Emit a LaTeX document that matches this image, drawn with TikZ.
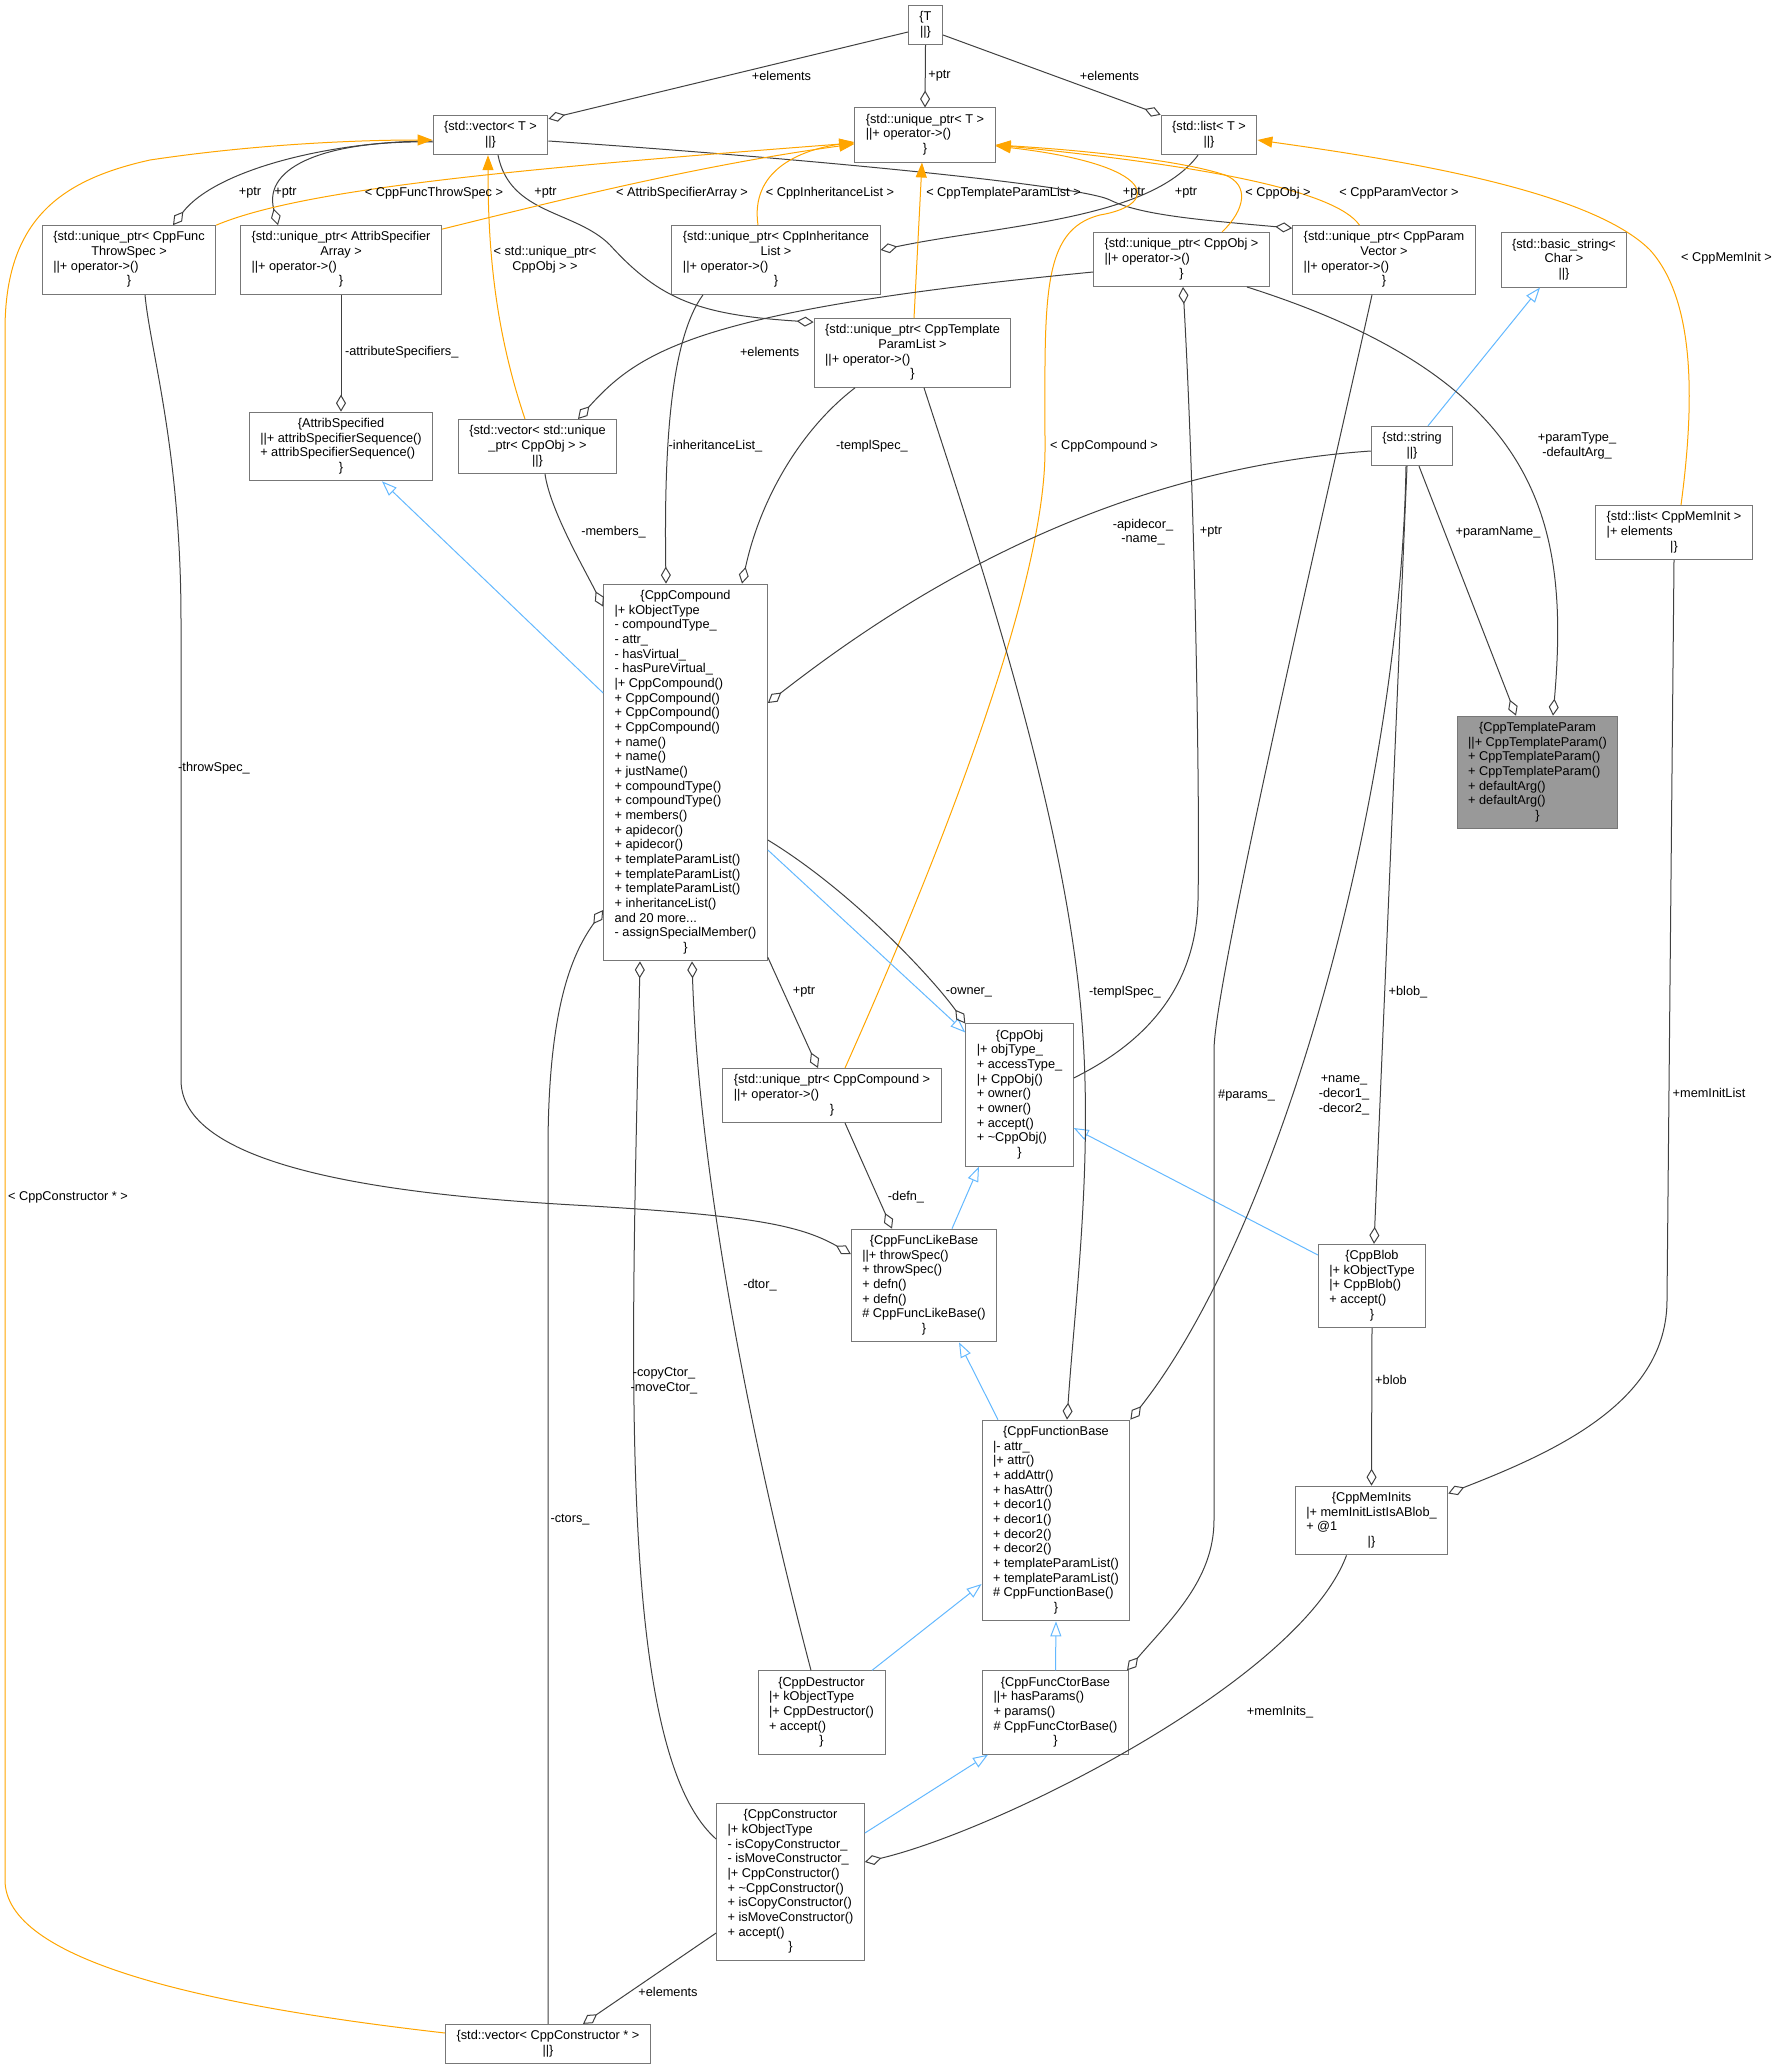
\documentclass[tikz,border=0pt]{standalone}
\usepackage{fontspec}
\setmainfont{Liberation Sans}
\usetikzlibrary{arrows.meta}
\definecolor{boxgray}{HTML}{777777}
\definecolor{hlgray}{HTML}{999999}
\definecolor{edgegray}{HTML}{404040}
\definecolor{tmplorange}{HTML}{FFA500}
\definecolor{inhblue}{HTML}{63B8FF}

% record text: first line centred, members left
\newcommand{\ctrline}[1]{\multicolumn{1}{@{}c@{}}{#1}}
\newcommand{\clsbox}[1]{\begin{tabular}{@{}l@{}}#1\end{tabular}}

\tikzset{
  cls/.style={draw=boxgray, fill=white, line width=1pt, inner xsep=11pt, inner ysep=5pt,
    font=\fontsize{12.75}{14.67}\selectfont},
  hlcls/.style={cls, fill=hlgray},
  lbl/.style={font=\fontsize{12.75}{14.67}\selectfont, align=center, inner sep=0pt},
  agg/.style={draw=edgegray, line width=1pt, {Diamond[open, length=17pt, width=10pt]}-},
  tmpl/.style={draw=tmplorange, fill=none, line width=1pt, -{Triangle[length=15pt, width=11pt]}},
  inh/.style={draw=inhblue, line width=1pt, -{Triangle[open, length=15pt, width=11pt]}},
}

\begin{document}
\begin{tikzpicture}[x=1pt, y=-1pt]
  \useasboundingbox (0,0) rectangle (1779,2069);

  % Top row: templates
  \node[cls] (tpar) at (925.5,25) {\clsbox{\ctrline{\{T}\\ \ctrline{||\}}}};
  \node[cls] (vecT) at (490.5,135) {\clsbox{\ctrline{\{std::vector< T >}\\ \ctrline{||\}}}};
  \node[cls] (uptrT) at (925,135) {\clsbox{\ctrline{\{std::unique\_ptr< T >}\\ ||+ operator->()\\ \ctrline{\}}}};
  \node[cls] (listT) at (1209,135) {\clsbox{\ctrline{\{std::list< T >}\\ \ctrline{||\}}}};

  % unique_ptr instances
  \node[cls] (uptrThrow) at (129,260) {\clsbox{\ctrline{\{std::unique\_ptr< CppFunc}\\ \ctrline{ThrowSpec >}\\ ||+ operator->()\\ \ctrline{\}}}};
  \node[cls] (uptrAttr) at (341,260) {\clsbox{\ctrline{\{std::unique\_ptr< AttribSpecifier}\\ \ctrline{Array >}\\ ||+ operator->()\\ \ctrline{\}}}};
  \node[cls] (uptrInh) at (776,260) {\clsbox{\ctrline{\{std::unique\_ptr< CppInheritance}\\ \ctrline{List >}\\ ||+ operator->()\\ \ctrline{\}}}};
  \node[cls] (uptrTpl) at (912.5,353) {\clsbox{\ctrline{\{std::unique\_ptr< CppTemplate}\\ \ctrline{ParamList >}\\ ||+ operator->()\\ \ctrline{\}}}};
  \node[cls] (uptrObj) at (1181.5,259.5) {\clsbox{\ctrline{\{std::unique\_ptr< CppObj >}\\ ||+ operator->()\\ \ctrline{\}}}};
  \node[cls] (uptrParam) at (1384,260) {\clsbox{\ctrline{\{std::unique\_ptr< CppParam}\\ \ctrline{Vector >}\\ ||+ operator->()\\ \ctrline{\}}}};
  \node[cls] (bstring) at (1564,260) {\clsbox{\ctrline{\{std::basic\_string<}\\ \ctrline{Char >}\\ \ctrline{||\}}}};

  % second row
  \node[cls] (attribSpec) at (341,446.5) {\clsbox{\ctrline{\{AttribSpecified}\\ ||+ attribSpecifierSequence()\\ + attribSpecifierSequence()\\ \ctrline{\}}}};
  \node[cls] (vecObj) at (537.5,446.5) {\clsbox{\ctrline{\{std::vector< std::unique}\\ \ctrline{\_ptr< CppObj > >}\\ \ctrline{||\}}}};
  \node[cls] (string) at (1412,446) {\clsbox{\ctrline{\{std::string}\\ \ctrline{||\}}}};
  \node[cls] (listMem) at (1674,532.5) {\clsbox{\ctrline{\{std::list< CppMemInit >}\\ |+ elements\\ \ctrline{|\}}}};

  % the class itself
  \node[hlcls] (tplParam) at (1537.5,772.5) {\clsbox{\ctrline{\{CppTemplateParam}\\ ||+ CppTemplateParam()\\ + CppTemplateParam()\\ + CppTemplateParam()\\ + defaultArg()\\ + defaultArg()\\ \ctrline{\}}}};

  % CppCompound and friends
  \node[cls] (compound) at (685.5,772.5) {\clsbox{\ctrline{\{CppCompound}\\ |+ kObjectType\\ - compoundType\_\\ - attr\_\\ - hasVirtual\_\\ - hasPureVirtual\_\\ |+ CppCompound()\\ + CppCompound()\\ + CppCompound()\\ + CppCompound()\\ + name()\\ + name()\\ + justName()\\ + compoundType()\\ + compoundType()\\ + members()\\ + apidecor()\\ + apidecor()\\ + templateParamList()\\ + templateParamList()\\ + templateParamList()\\ + inheritanceList()\\ and 20 more...\\ - assignSpecialMember()\\ \ctrline{\}}}};
  \node[cls] (cppObj) at (1019.5,1095) {\clsbox{\ctrline{\{CppObj}\\ |+ objType\_\\ + accessType\_\\ |+ CppObj()\\ + owner()\\ + owner()\\ + accept()\\ + \textasciitilde CppObj()\\ \ctrline{\}}}};
  \node[cls] (uptrCmp) at (832,1095.5) {\clsbox{\ctrline{\{std::unique\_ptr< CppCompound >}\\ ||+ operator->()\\ \ctrline{\}}}};
  \node[cls] (funcLike) at (924,1285.5) {\clsbox{\ctrline{\{CppFuncLikeBase}\\ ||+ throwSpec()\\ + throwSpec()\\ + defn()\\ + defn()\\ \# CppFuncLikeBase()\\ \ctrline{\}}}};
  \node[cls] (blob) at (1372,1286) {\clsbox{\ctrline{\{CppBlob}\\ |+ kObjectType\\ |+ CppBlob()\\ + accept()\\ \ctrline{\}}}};
  \node[cls] (funcBase) at (1056,1520.5) {\clsbox{\ctrline{\{CppFunctionBase}\\ |- attr\_\\ |+ attr()\\ + addAttr()\\ + hasAttr()\\ + decor1()\\ + decor1()\\ + decor2()\\ + decor2()\\ + templateParamList()\\ + templateParamList()\\ \# CppFunctionBase()\\ \ctrline{\}}}};
  \node[cls] (memInits) at (1371.5,1520.5) {\clsbox{\ctrline{\{CppMemInits}\\ |+ memInitListIsABlob\_\\ + @1\\ \ctrline{|\}}}};
  \node[cls] (dtor) at (821.5,1712.5) {\clsbox{\ctrline{\{CppDestructor}\\ |+ kObjectType\\ |+ CppDestructor()\\ + accept()\\ \ctrline{\}}}};
  \node[cls] (ctorBase) at (1055.5,1712.5) {\clsbox{\ctrline{\{CppFuncCtorBase}\\ ||+ hasParams()\\ + params()\\ \# CppFuncCtorBase()\\ \ctrline{\}}}};
  \node[cls] (ctor) at (790.5,1882) {\clsbox{\ctrline{\{CppConstructor}\\ |+ kObjectType\\ - isCopyConstructor\_\\ - isMoveConstructor\_\\ |+ CppConstructor()\\ + \textasciitilde CppConstructor()\\ + isCopyConstructor()\\ + isMoveConstructor()\\ + accept()\\ \ctrline{\}}}};
  \node[cls] (vecCtor) at (548,2044) {\clsbox{\ctrline{\{std::vector< CppConstructor * >}\\ \ctrline{||\}}}};

  % members of T
  \draw[agg] ([yshift=-4]vecT.north east) -- ([yshift=-7]tpar.west);
  \draw[agg] (uptrT.north) -- (tpar.south);
  \draw[agg] (listT.north west) -- ([yshift=-10]tpar.east);

  % +ptr members
  \draw[agg] ([xshift=44]uptrThrow.north) .. controls (215,170) and (330,141) .. ([yshift=-6]vecT.west);
  \draw[agg] ([xshift=-63]uptrAttr.north) .. controls (262,165) and (330,140) .. ([yshift=-7]vecT.west);
  \draw[agg] ([yshift=-4]uptrTpl.north west) .. controls (700,315) and (660,300) .. (610,245)
    .. controls (575,210) and (510,215) .. ([xshift=7.5]vecT.south);
  \draw[agg] ([yshift=-3]uptrParam.north west) .. controls (1200,220) and (1140,215) .. (1110,200)
    .. controls (1080,185) and (800,158) .. ([yshift=-6]vecT.east);
  \draw[agg] ([yshift=10]uptrInh.east) .. controls (1000,225) and (1150,220) .. ([xshift=-11]listT.south);

  % template instances
  \draw[tmpl] (uptrThrow.north east) .. controls (300,190) and (500,170) .. ([yshift=-8]uptrT.west);
  \draw[tmpl] ([yshift=-4]uptrAttr.north east) .. controls (560,200) and (700,165) .. ([yshift=-9]uptrT.west);
  \draw[tmpl] ([xshift=-18]uptrInh.north) .. controls (750,170) and (800,150) .. ([yshift=-7]uptrT.west);
  \draw[tmpl] ([xshift=1.5]uptrTpl.north) -- ([xshift=-3]uptrT.south);
  \draw[tmpl] ([xshift=40.5]uptrObj.north) .. controls (1245,210) and (1250,185) .. (1225,175)
    .. controls (1180,160) and (1080,150) .. ([yshift=-10]uptrT.east);
  \draw[tmpl] ([xshift=-24.5]uptrParam.north) .. controls (1335,190) and (1200,165) .. ([yshift=-10]uptrT.east);
  \draw[tmpl] ([xshift=13]uptrCmp.north) .. controls (920,900) and (1045,600) .. (1045,450)
    .. controls (1045,300) and (1040,230) .. (1100,215)
    .. controls (1160,205) and (1160,165) .. ([yshift=-11]uptrT.east);
  \draw[tmpl] ([xshift=7]listMem.north) .. controls (1695,400) and (1695,300) .. (1650,250)
    .. controls (1590,190) and (1400,160) .. ([yshift=-5]listT.east);
  \draw[tmpl] ([yshift=11]vecCtor.west) .. controls (200,2005) and (5,1960) .. (5,1880) -- (5,330)
    .. controls (5,220) and (60,180) .. (150,160)
    .. controls (250,145) and (350,140) .. ([yshift=-5]vecT.west);
  \draw[tmpl] ([xshift=-12.5]vecObj.north) .. controls (495,330) and (488,250) .. ([xshift=-2.5]vecT.south);

  % inheritance
  \draw[inh] ([yshift=79.5]compound.west) -- ([xshift=41]attribSpec.south);
  \draw[inh] ([xshift=16]string.north) -- ([xshift=-24]bstring.south);
  \draw[inh] ([yshift=-77.5]compound.east) -- ([yshift=-9]cppObj.north west);
  \draw[inh] ([xshift=28]funcLike.north) -- ([xshift=-40.5]cppObj.south);
  \draw[inh] ([yshift=31]blob.west) -- ([yshift=-33]cppObj.east);
  \draw[inh] ([xshift=-58]funcBase.north) -- ([xshift=35]funcLike.south);
  \draw[inh] ([xshift=50.5]dtor.north) -- ([yshift=-63.5]funcBase.west);
  \draw[inh] (ctorBase.north) -- (funcBase.south);
  \draw[inh] ([yshift=49]ctor.east) -- ([xshift=-67.5]ctorBase.south);

  % usage
  \draw[agg] (attribSpec.north) -- (uptrAttr.south);
  \draw[agg] ([xshift=40.5]vecObj.north) .. controls (640,350) and (700,310) .. ([yshift=-12.5]uptrObj.west);
  \draw[agg] ([xshift=-19.5]compound.north) .. controls (664,450) and (670,340) .. ([xshift=-73]uptrInh.south);
  \draw[agg] ([xshift=56.5]compound.north) .. controls (760,500) and (800,430) .. ([xshift=-57.5]uptrTpl.south);
  \draw[agg] ([yshift=-23]compound.north west) .. controls (585,570) and (550,510) .. ([xshift=7.5]vecObj.south);
  \draw[agg] ([yshift=69.5]compound.east) .. controls (900,600) and (1100,470) .. ([yshift=-5]string.west);
  \draw[agg] ([xshift=1.5]uptrObj.south) .. controls (1195,500) and (1200,800) .. (1198,900)
    .. controls (1196,1000) and (1130,1050) .. ([yshift=17]cppObj.east);
  \draw[agg] (cppObj.north west) .. controls (930,975) and (850,890) .. ([yshift=-67.5]compound.east);
  \draw[agg] ([xshift=-14]uptrCmp.north) -- ([yshift=4]compound.south east);
  \draw[agg] ([xshift=11]funcBase.north) .. controls (1075,1300) and (1095,1150) .. (1080,1000)
    .. controls (1060,800) and (980,560) .. ([xshift=11.5]uptrTpl.south);
  \draw[agg] ([xshift=-2]ctorBase.north east) .. controls (1170,1620) and (1214,1580) .. (1214,1520) -- (1214,1050)
    .. controls (1214,980) and (1340,440) .. ([xshift=-12]uptrParam.south);
  \draw[agg] (funcBase.north east) .. controls (1280,1230) and (1400,800) .. ([xshift=-6]string.south);
  \draw[agg] ([xshift=2]blob.north) -- ([xshift=-5]string.south);
  \draw[agg] ([xshift=-21.5]tplParam.north) -- ([xshift=7]string.south);
  \draw[agg] ([xshift=15.5]tplParam.north) .. controls (1570,520) and (1540,380) .. ([xshift=65.5]uptrObj.south);
  \draw[agg] ([yshift=27]memInits.east) .. controls (1560,1450) and (1667,1400) .. (1667,1300) -- (listMem.south);
  \draw[agg] (memInits.north) -- (blob.south);
  \draw[agg] ([yshift=20]ctor.east) .. controls (1000,1830) and (1300,1680) .. ([xshift=-25]memInits.south);
  \draw[agg] ([xshift=6.5]compound.south) .. controls (698,1150) and (740,1400) .. ([xshift=-10.5]dtor.north);
  \draw[agg] ([xshift=-45.5]compound.south) .. controls (632,1350) and (615,1750) .. ([yshift=43]ctor.west);
  \draw[agg] ([yshift=-137.5]compound.west) .. controls (575,950) and (548,1000) .. (548,1150) -- (vecCtor.north);
  \draw[agg] ([yshift=31.5]funcLike.west) .. controls (800,1225) and (750,1215) .. (574,1205)
    .. controls (400,1195) and (181,1170) .. (181,1080) -- (181,620)
    .. controls (181,450) and (150,350) .. ([xshift=16]uptrThrow.south);
  \draw[agg] ([xshift=-32]funcLike.north) -- ([xshift=13]uptrCmp.south);
  \draw[agg] ([xshift=35]vecCtor.north) -- ([yshift=-51]ctor.west);

  % edge labels
  \node[lbl] (lbElemV) at (781.5,76) {+elements};
  \node[lbl] (lbPtrT) at (939.5,76) {+ptr};
  \node[lbl] (lbElemL) at (1109.5,76) {+elements};
  \node[lbl] (lbPtrThrow) at (250,193) {+ptr};
  \node[lbl] (lbPtrAttr) at (285.5,193) {+ptr};
  \node[lbl] (lbThrow) at (434,193) {< CppFuncThrowSpec >};
  \node[lbl] (lbPtrTpl) at (545.5,193) {+ptr};
  \node[lbl] (lbVecObj) at (545,259.5) {< std::unique\_ptr<\\CppObj > >};
  \node[lbl] (lbAttr) at (682,193) {< AttribSpecifierArray >};
  \node[lbl] (lbInh) at (830,193) {< CppInheritanceList >};
  \node[lbl] (lbTpl) at (1003.5,193) {< CppTemplateParamList >};
  \node[lbl] (lbPtrParam) at (1134,193) {+ptr};
  \node[lbl] (lbPtrInh) at (1186,193) {+ptr};
  \node[lbl] (lbObj) at (1278,193) {< CppObj >};
  \node[lbl] (lbParam) at (1399,193) {< CppParamVector >};
  \node[lbl] (lbMemInit) at (1726.5,258) {< CppMemInit >};
  \node[lbl] (lbAttrSpec) at (401.7,352) {-attributeSpecifiers\_};
  \node[lbl] (lbElemObj) at (769.6,352) {+elements};
  \node[lbl] (lbInhList) at (715.5,446) {-inheritanceList\_};
  \node[lbl] (lbTplSpec) at (872,446) {-templSpec\_};
  \node[lbl] (lbCmp) at (1104,446) {< CppCompound >};
  \node[lbl] (lbParamType) at (1577,446) {+paramType\_\\-defaultArg\_};
  \node[lbl] (lbMembers) at (613.5,532) {-members\_};
  \node[lbl] (lbName) at (1143,532) {-apidecor\_\\-name\_};
  \node[lbl] (lbPtrObj) at (1211,532) {+ptr};
  \node[lbl] (lbParamName) at (1498,532) {+paramName\_};
  \node[lbl] (lbThrowSpec) at (214,768) {-throwSpec\_};
  \node[lbl] (lbPtrCmp) at (804,992) {+ptr};
  \node[lbl] (lbOwner) at (969,992) {-owner\_};
  \node[lbl] (lbTplSpec2) at (1125,992) {-templSpec\_};
  \node[lbl] (lbBlobS) at (1408,992) {+blob\_};
  \node[lbl] (lbParams) at (1246.5,1095) {\#params\_};
  \node[lbl] (lbDecor) at (1344,1095) {+name\_\\-decor1\_\\-decor2\_};
  \node[lbl] (lbMemList) at (1709,1093) {+memInitList};
  \node[lbl] (lbCtorT) at (68,1197) {< CppConstructor * >};
  \node[lbl] (lbDefn) at (906,1197) {-defn\_};
  \node[lbl] (lbDtor) at (760,1285) {-dtor\_};
  \node[lbl] (lbCopy) at (664,1381) {-copyCtor\_\\-moveCtor\_};
  \node[lbl] (lbBlob) at (1391,1380) {+blob};
  \node[lbl] (lbCtors) at (570,1520) {-ctors\_};
  \node[lbl] (lbMemInits) at (1280,1712) {+memInits\_};
  \node[lbl] (lbElemC) at (668,1992) {+elements};
\end{tikzpicture}
\end{document}
